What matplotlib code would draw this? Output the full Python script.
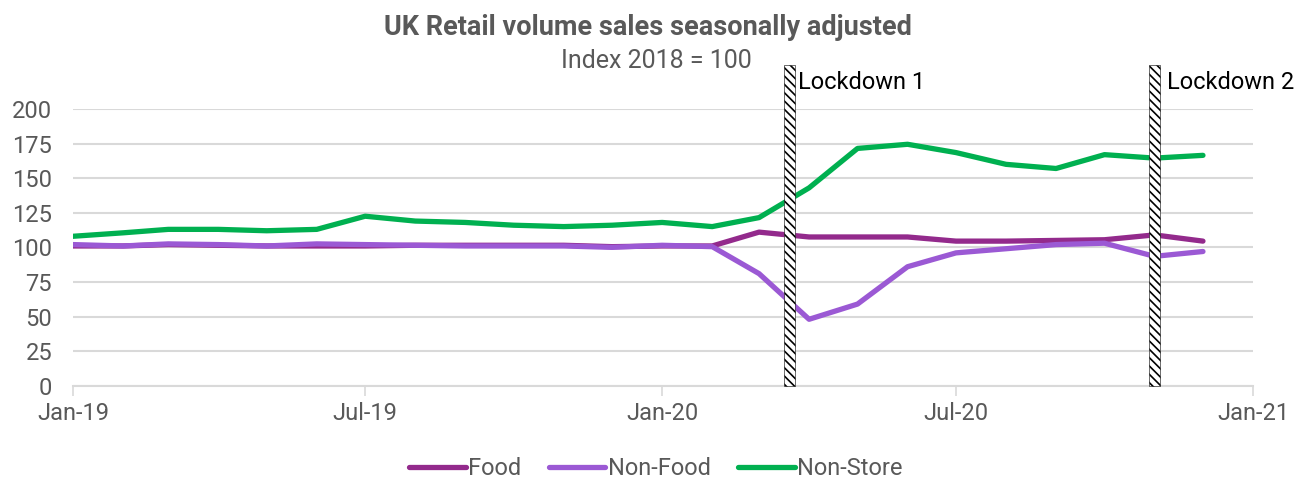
import matplotlib
matplotlib.use("Agg")
import matplotlib.pyplot as plt
import matplotlib.dates as mdates
import pandas as pd
import numpy as np

# ---- data ----
months = pd.date_range("2019-01-01", periods=24, freq="MS")
food = [101, 101, 102, 101.5, 101, 101, 101, 101.5, 101.5, 101.5, 101.5, 100.5,
        101, 101, 111, 107.5, 107.5, 107.5, 104.5, 104.5, 105, 105.5, 109, 104.5]
non_food = [102, 101, 102.5, 102, 101, 102.5, 102, 101.5, 101, 101, 101, 100,
            101.5, 100.5, 81, 48, 59, 86, 96, 99, 102, 103, 93.5, 97]
non_store = [108, 110.5, 113, 113, 112, 113, 122.5, 119, 118, 116, 115, 116,
             118, 115, 121.5, 143, 171.5, 174.5, 168.5, 160, 157, 167, 164.5, 166.5]
series_names = ["Food", "Non-Food", "Non-Store"]
lockdown_dates = pd.to_datetime(["2020-03-20", "2020-11-01"])
lockdown_labels = ["Lockdown 1", "Lockdown 2"]
xtick_dates = pd.to_datetime(["2019-01-01", "2019-07-01", "2020-01-01", "2020-07-01", "2021-01-01"])
yticks = [0, 25, 50, 75, 100, 125, 150, 175, 200]

colors = ["#932A8C", "#9B59D4", "#00B050"]
txt = "#595959"
FONT = "Roboto"
FS = 17
plt.rcParams["font.family"] = [FONT, "DejaVu Sans"]
plt.rcParams["hatch.linewidth"] = 1.2

fig = plt.figure(figsize=(13.04, 4.79), dpi=100)
ax = fig.add_axes([73/1304, 1-385.7/479, (1253-73)/1304, (385.7-109)/479])

for vals, name, c in zip([food, non_food, non_store], series_names, colors):
    ax.plot(months, vals, color=c, lw=3.8, label=name, solid_joinstyle="round",
            solid_capstyle="round", zorder=3)

ax.set_ylim(0, 200)
ax.set_xlim(pd.Timestamp("2019-01-01"), pd.Timestamp("2021-01-01"))
ax.set_yticks(yticks)
ax.set_xticks(xtick_dates)
ax.xaxis.set_major_formatter(mdates.DateFormatter("%b-%y"))
ax.grid(axis="y", color="#D9D9D9", lw=1.5, zorder=0)
ax.set_axisbelow(True)
for s in ["top", "right", "left"]:
    ax.spines[s].set_visible(False)
ax.spines["bottom"].set_color("#D9D9D9")
ax.spines["bottom"].set_linewidth(1.5)
ax.tick_params(axis="y", length=0, labelsize=FS, labelcolor=txt, pad=15)
ax.tick_params(axis="x", length=7, width=1.2, color="#D9D9D9", labelsize=FS,
               labelcolor=txt, pad=5)

# lockdown bars
ax.bar(lockdown_dates, [232, 232], width=6.5, bottom=0, color="white",
       edgecolor="black", hatch="\\" * 4, lw=0.4, clip_on=False, zorder=5)
for d, lab, off in zip(lockdown_dates, lockdown_labels, [8, 12]):
    ax.annotate(lab, xy=(d, 219), xytext=(off, 0), textcoords="offset pixels",
                fontsize=FS, color="black", va="center", ha="left",
                annotation_clip=False)

fig.text(0.497, 0.942, "UK Retail volume sales seasonally adjusted", ha="center",
         va="center", fontsize=19.5, fontweight="bold", color=txt)
fig.text(0.503, 0.873, "Index 2018 = 100", ha="center", va="center",
         fontsize=18, color=txt)

leg = fig.legend(loc="center", bbox_to_anchor=(0.503, 0.021), ncol=3, frameon=False,
                 fontsize=FS, handlelength=2.4, handletextpad=0.1, columnspacing=1.15,
                 labelcolor=txt)
for h in leg.get_lines():
    h.set_solid_capstyle("round")

fig.savefig("out.png", dpi=100)
